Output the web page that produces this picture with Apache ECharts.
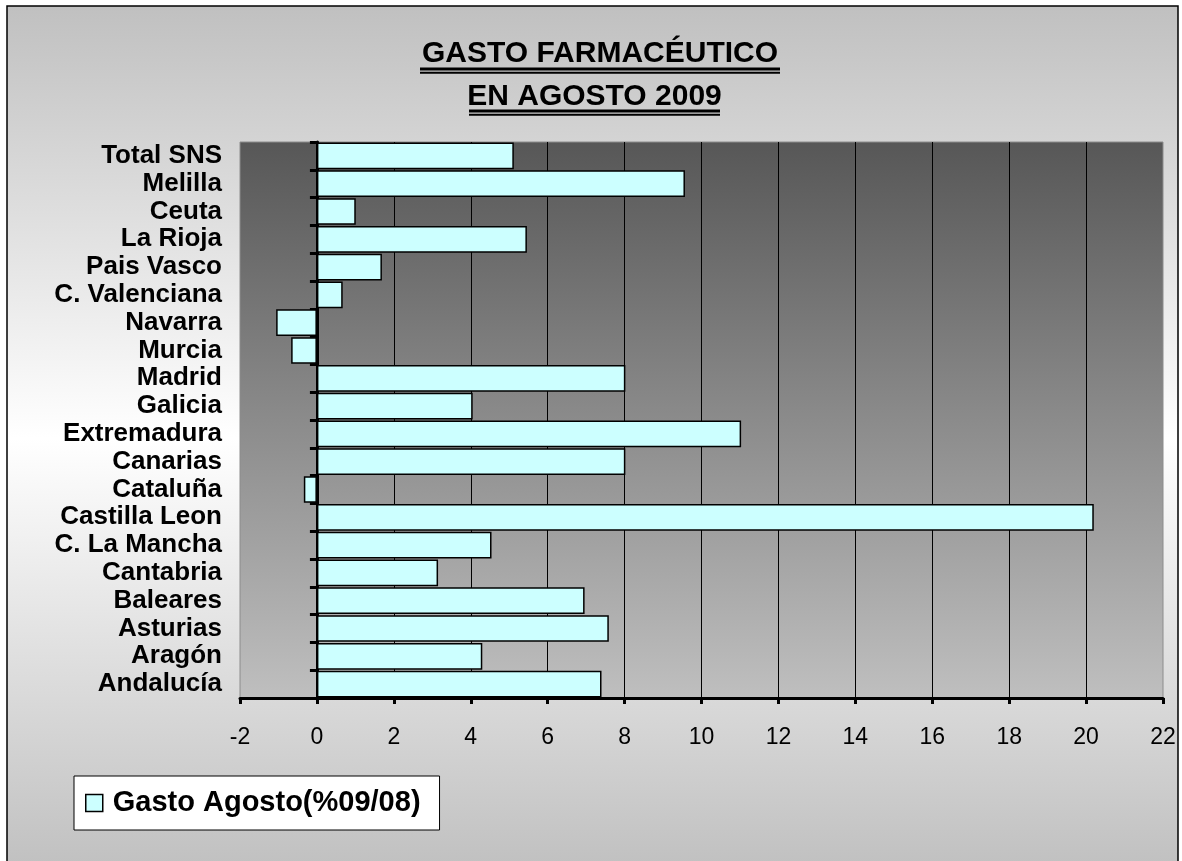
<!DOCTYPE html>
<html>
<head>
<meta charset="utf-8">
<script src="https://cdn.jsdelivr.net/npm/echarts@6/dist/echarts.min.js"></script>
<style>html,body{margin:0;padding:0;background:#fff;}#c{width:1182px;height:861px;}</style>
</head>
<body>
<div id="c"></div>
<script>
const categories = ['Total SNS','Melilla','Ceuta','La Rioja','Pais Vasco','C. Valenciana','Navarra','Murcia','Madrid','Galicia','Extremadura','Canarias','Cataluña','Castilla Leon','C. La Mancha','Cantabria','Baleares','Asturias','Aragón','Andalucía'];
const gasto = [5.12, 9.57, 1.01, 5.46, 1.69, 0.67, -1.06, -0.67, 8.02, 4.05, 11.03, 8.02, -0.34, 20.2, 4.54, 3.15, 6.96, 7.59, 4.30, 7.40];
const seriesName = 'Gasto Agosto(%09/08)';
const titleLines = ['GASTO FARMACÉUTICO', 'EN AGOSTO 2009'];

const FONT = '"Liberation Sans", Arial, sans-serif';
const chart = echarts.init(document.getElementById('c'), null, {renderer: 'canvas'});
const grad = (stops) => new echarts.graphic.LinearGradient(0, 0, 0, 1, stops);

chart.setOption({
  animation: false,
  textStyle: {fontFamily: FONT},
  graphic: [
    {type: 'rect', z: -100, shape: {x: 7, y: 6, width: 1171, height: 864},
     style: {fill: grad([{offset: 0, color: '#c0c0c0'}, {offset: 0.5, color: '#ffffff'}, {offset: 1, color: '#c0c0c0'}])}},
    {type: 'rect', z: 100, silent: true, shape: {x: 7, y: 6, width: 1171, height: 864},
     style: {fill: null, stroke: '#000', lineWidth: 1.5}},
    {type: 'text', x: 600, y: 54, style: {text: titleLines[0], font: 'bold 30px ' + FONT, fill: '#000', align: 'center', verticalAlign: 'middle'}},
    {type: 'text', x: 594.5, y: 97, style: {text: titleLines[1], font: 'bold 30px ' + FONT, fill: '#000', align: 'center', verticalAlign: 'middle'}},
    {type: 'line', shape: {x1: 420, y1: 69, x2: 780, y2: 69}, style: {stroke: '#000', lineWidth: 3}},
    {type: 'line', shape: {x1: 420, y1: 72.8, x2: 780, y2: 72.8}, style: {stroke: '#000', lineWidth: 2}},
    {type: 'line', shape: {x1: 469, y1: 111, x2: 720, y2: 111}, style: {stroke: '#000', lineWidth: 3}},
    {type: 'line', shape: {x1: 469, y1: 114.8, x2: 720, y2: 114.8}, style: {stroke: '#000', lineWidth: 2}}
  ],
  grid: {
    left: 240, right: 19, top: 142, bottom: 163, containLabel: false,
    show: true,
    backgroundColor: grad([{offset: 0, color: '#575757'}, {offset: 1, color: '#bfbfbf'}]),
    borderColor: '#8c8c8c', borderWidth: 1
  },
  legend: {
    left: 74, top: 776,
    padding: [12, 19, 12, 11],
    backgroundColor: '#ffffff', borderColor: '#000', borderWidth: 1,
    itemWidth: 17, itemHeight: 17,
    icon: 'rect',
    itemStyle: {color: '#ccffff', borderColor: '#000', borderWidth: 1.5},
    textStyle: {fontSize: 29, fontWeight: 'bold', color: '#000', fontFamily: FONT, lineHeight: 30, padding: [0, 0, 0, 5]},
    data: [seriesName]
  },
  xAxis: {
    type: 'value', min: -2, max: 22, interval: 2,
    axisLine: {show: true, onZero: false, lineStyle: {color: '#000', width: 3}},
    axisTick: {show: true, length: 6, lineStyle: {color: '#000', width: 3}},
    axisLabel: {fontSize: 23, color: '#000', margin: 28, fontFamily: FONT},
    splitLine: {show: true, showMinLine: false, showMaxLine: false, lineStyle: {color: '#000', width: 1}}
  },
  yAxis: [
    {
      type: 'category', data: categories, inverse: true, position: 'left',
      axisLine: {show: false, onZero: false},
      axisTick: {show: false},
      axisLabel: {interval: 0, fontSize: 26, fontWeight: 'bold', color: '#000', margin: 18, fontFamily: FONT},
      splitLine: {show: false}
    },
    {
      type: 'category', data: categories, inverse: true, position: 'left',
      axisLine: {show: true, onZero: true, onZeroAxisIndex: 0, lineStyle: {color: '#000', width: 3}},
      axisTick: {show: true, interval: 0, length: 7, lineStyle: {color: '#000', width: 3}},
      axisLabel: {show: false},
      splitLine: {show: false}
    }
  ],
  series: [{
    name: seriesName, type: 'bar', yAxisIndex: 0, data: gasto,
    barCategoryGap: '4%',
    itemStyle: {color: '#ccffff', borderColor: '#000', borderWidth: 1.5}
  }]
});
</script>
</body>
</html>
